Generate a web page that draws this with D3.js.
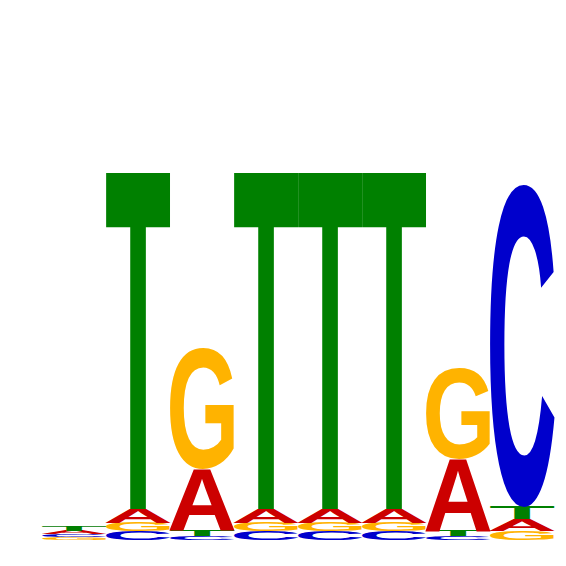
<!DOCTYPE html>
<html>
<head>
<meta charset="utf-8">
<script src="https://cdn.jsdelivr.net/npm/d3@7"></script>
<style>
  html, body { margin: 0; padding: 0; background: #fff; }
</style>
</head>
<body>
<svg id="logo" width="566" height="566"></svg>
<script>
// per-position letter heights, in bits
const positions = [1, 2, 3, 4, 5, 6, 7, 8]
const bitsA = [0.012, 0.050, 0.226, 0.050, 0.050, 0.050, 0.263, 0.043]
const bitsC = [0.011, 0.032, 0.016, 0.032, 0.032, 0.032, 0.015, 1.196]
const bitsG = [0.010, 0.033, 0.448, 0.033, 0.033, 0.033, 0.338, 0.033]
const bitsT = [0.019, 1.248, 0.022, 1.248, 1.248, 1.248, 0.022, 0.046]

const letters = ['A', 'C', 'G', 'T']
const colors = { A: '#CC0000', C: '#0000CC', G: '#FFB300', T: '#008000' }
const bitsByLetter = { A: bitsA, C: bitsC, G: bitsG, T: bitsT }

const fontFamily = '"Liberation Sans", Arial, sans-serif'
const fontSize = 100

// tight glyph bounds: draw each letter on a canvas and scan its pixels
const canvas = document.createElement('canvas')
canvas.width = 300
canvas.height = 300
const ctx = canvas.getContext('2d')
ctx.font = `bold ${fontSize}px ${fontFamily}`
const ox = 100
const oy = 200
const glyphBox = {}
letters.forEach(l => {
  ctx.clearRect(0, 0, canvas.width, canvas.height)
  ctx.fillStyle = '#000'
  ctx.fillText(l, ox, oy)
  const px = ctx.getImageData(0, 0, canvas.width, canvas.height).data
  let x0 = Infinity, x1 = -Infinity, y0 = Infinity, y1 = -Infinity
  for (let j = 0; j < canvas.height; j++) {
    for (let i = 0; i < canvas.width; i++) {
      if (px[(j * canvas.width + i) * 4 + 3] > 127) {
        if (i < x0) x0 = i
        if (i > x1) x1 = i
        if (j < y0) y0 = j
        if (j > y1) y1 = j
      }
    }
  }
  glyphBox[l] = { left: ox - x0, right: x1 + 1 - ox, ascent: oy - y0, descent: y1 + 1 - oy }
})

const svg = d3.select('#logo')
const x = d3.scaleBand().domain(positions).range([42, 554]).padding(0)
const y = d3.scaleLinear().domain([0, 2]).range([540, 0])

// stack each column with the smallest letter at the bottom
const stacks = positions.map((p, i) => {
  const col = letters.map(l => ({ letter: l, bits: bitsByLetter[l][i] }))
    .sort((a, b) => a.bits - b.bits)
  let base = 0
  col.forEach(d => { d.y0 = base; base += d.bits; d.y1 = base; d.pos = p })
  return col
})

const cols = svg.selectAll('g.col')
  .data(stacks)
  .join('g')
  .attr('class', 'col')

cols.selectAll('text')
  .data(d => d)
  .join('text')
  .text(d => d.letter)
  .attr('font-family', fontFamily)
  .attr('font-weight', 'bold')
  .attr('font-size', fontSize)
  .attr('fill', d => colors[d.letter])
  .attr('transform', d => {
    const b = glyphBox[d.letter]
    const w = x.bandwidth()
    const h = y(d.y0) - y(d.y1)
    const sx = w / (b.left + b.right)
    const sy = h / (b.ascent + b.descent)
    return `translate(${x(d.pos)},${y(d.y0)}) scale(${sx},${sy}) translate(${b.left},${-b.descent})`
  })
</script>
</body>
</html>
